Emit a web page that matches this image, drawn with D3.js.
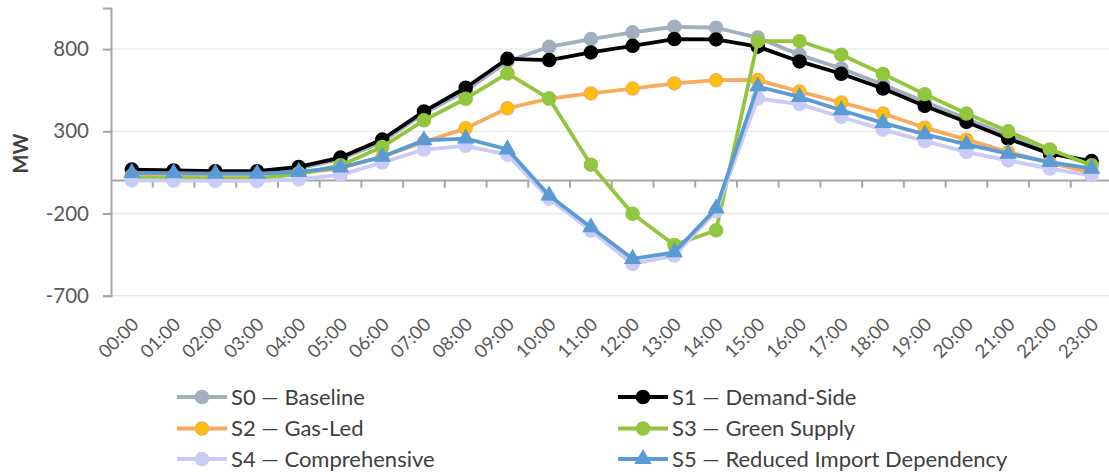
<!DOCTYPE html>
<html>
<head>
<meta charset="utf-8">
<script src="https://cdn.jsdelivr.net/npm/d3@7/dist/d3.min.js"></script>
<style>
  html, body { margin: 0; padding: 0; background: #fff; }
  svg { display: block; }
  text { font-family: Lato, "Open Sans", sans-serif; }
</style>
</head>
<body>
<svg id="chart" width="1109" height="472"></svg>
<script>
// Hourly net import profile per scenario (MW)
const hours = ["00:00","01:00","02:00","03:00","04:00","05:00","06:00","07:00","08:00","09:00","10:00","11:00",
               "12:00","13:00","14:00","15:00","16:00","17:00","18:00","19:00","20:00","21:00","22:00","23:00"];
const s0Baseline      = [60, 55, 50, 50, 75, 130, 235, 410, 545, 725, 814, 861, 902, 936, 930, 870, 765, 682, 585, 480, 377, 276, 174, 100];
const s1DemandSide    = [67, 62, 57, 57, 83, 140, 250, 421, 565, 741, 733, 780, 820, 861, 859, 815, 725, 650, 560, 454, 357, 255, 164, 119];
const s2GasLed        = [30, 28, 25, 25, 45, 75, 145, 235, 318, 440, 499, 530, 560, 591, 611, 612, 542, 475, 408, 322, 249, 174, 107, 52];
const s3GreenSupply   = [18, 15, 12, 12, 40, 94, 205, 367, 498, 652, 499, 97, -202, -391, -302, 848, 848, 766, 649, 526, 408, 300, 190, 93];
const s4Comprehensive = [2, 0, -2, -2, 7, 35, 110, 189, 211, 158, -110, -304, -507, -456, -185, 500, 465, 387, 310, 241, 174, 123, 73, 32];
const s5ReducedImport = [47, 45, 42, 42, 53, 80, 145, 245, 256, 190, -90, -284, -476, -436, -170, 572, 509, 428, 351, 282, 221, 164, 113, 73];
const yTicks = [800, 300, -200, -700];

const series = [
  { name: "S0 \u2014 Baseline",                  values: s0Baseline,      line: "#A2AFC1", fill: "#A2AFC1", stroke: "#A2AFC1", shape: "circle" },
  { name: "S1 \u2014 Demand-Side",               values: s1DemandSide,    line: "#000000", fill: "#000000", stroke: "#000000", shape: "circle" },
  { name: "S2 \u2014 Gas-Led",                   values: s2GasLed,        line: "#F7AB5C", fill: "#FFC000", stroke: "#F7AB5C", shape: "circle" },
  { name: "S3 \u2014 Green Supply",              values: s3GreenSupply,   line: "#92C63E", fill: "#92C63E", stroke: "#92C63E", shape: "circle" },
  { name: "S4 \u2014 Comprehensive",             values: s4Comprehensive, line: "#CACBF8", fill: "#CACBF8", stroke: "#CACBF8", shape: "circle" },
  { name: "S5 \u2014 Reduced Import Dependency", values: s5ReducedImport, line: "#5B9BD5", fill: "#5B9BD5", stroke: "#5B9BD5", shape: "triangle" }
];

const svg = d3.select("#chart");
const plot = { left: 111, right: 1112.5, top: 8, bottom: 295.7 };

const x = d3.scaleBand().domain(hours).range([plot.left, plot.right]).padding(0);
const y = d3.scaleLinear().domain([-700, 1050]).range([plot.bottom, plot.top]);
const cx = h => x(h) + x.bandwidth() / 2;

// Gridlines
svg.append("g").selectAll("line").data(yTicks).join("line")
  .attr("x1", plot.left).attr("x2", plot.right)
  .attr("y1", d => y(d)).attr("y2", d => y(d))
  .attr("stroke", "#E3EAEA").attr("stroke-width", 1.3);

// Value axis
const yAxis = svg.append("g").attr("transform", `translate(${plot.left},0)`)
  .call(d3.axisLeft(y).tickValues(yTicks).tickSize(8).tickPadding(14).tickFormat(d => String(d)));
yAxis.select(".domain").attr("stroke", "#A6A6A6").attr("stroke-width", 2);
yAxis.selectAll(".tick line").attr("stroke", "#A6A6A6").attr("stroke-width", 2);
yAxis.selectAll(".tick text").attr("fill", "#595959").attr("font-size", 20.5)
  .style("font-family", "Lato, 'Open Sans', sans-serif");

svg.append("text").attr("transform", `translate(28,${y(165)}) rotate(-90)`)
  .attr("text-anchor", "middle").attr("font-size", 20).attr("font-weight", "bold")
  .attr("fill", "#404040").text("MW");

// Category axis drawn at zero
const x0 = y(0);
svg.append("line").attr("x1", plot.left).attr("x2", plot.right).attr("y1", x0).attr("y2", x0)
  .attr("stroke", "#A6A6A6").attr("stroke-width", 2);
svg.append("g").selectAll("line").data(hours.slice(1)).join("line")
  .attr("x1", d => x(d)).attr("x2", d => x(d)).attr("y1", x0).attr("y2", x0 + 7)
  .attr("stroke", "#A6A6A6").attr("stroke-width", 2);

// Hour labels below the plot, rotated
svg.append("g").selectAll("text").data(hours).join("text")
  .attr("transform", d => `translate(${cx(d) + 8},${plot.bottom + 30}) rotate(-45)`)
  .attr("text-anchor", "end")
  .attr("font-size", 18.5).attr("fill", "#595959").text(d => d);

// Series lines and markers
const line = d3.line().x((d, i) => cx(hours[i])).y(d => y(d));
const tri = d3.symbol().type(d3.symbolTriangle).size(95);

series.forEach(s => {
  const g = svg.append("g");
  g.append("path").attr("d", line(s.values)).attr("fill", "none")
    .attr("stroke", s.line).attr("stroke-width", 3.8).attr("stroke-linejoin", "round");
  if (s.shape === "circle") {
    g.selectAll("circle").data(s.values).join("circle")
      .attr("cx", (d, i) => cx(hours[i])).attr("cy", d => y(d)).attr("r", 6.5)
      .attr("fill", s.fill).attr("stroke", s.stroke).attr("stroke-width", 1.5);
  } else {
    g.selectAll("path.m").data(s.values).join("path").attr("class", "m")
      .attr("transform", (d, i) => `translate(${cx(hours[i])},${y(d)})`)
      .attr("d", tri).attr("fill", s.fill).attr("stroke", s.stroke).attr("stroke-width", 1.5);
  }
});

// Legend in two columns
const legend = svg.append("g");
const colX = [177, 618];
const rowY = [397, 428.5, 459];
series.forEach((s, i) => {
  const gx = colX[i % 2], gy = rowY[Math.floor(i / 2)];
  const g = legend.append("g").attr("transform", `translate(${gx},${gy})`);
  g.append("line").attr("x1", 0).attr("x2", 50).attr("stroke", s.line).attr("stroke-width", 3.8);
  if (s.shape === "circle") {
    g.append("circle").attr("cx", 25).attr("r", 6.5).attr("fill", s.fill)
      .attr("stroke", s.stroke).attr("stroke-width", 1.5);
  } else {
    g.append("path").attr("transform", "translate(25,0)").attr("d", tri).attr("fill", s.fill)
      .attr("stroke", s.stroke).attr("stroke-width", 1.5);
  }
  g.append("text").attr("x", 54).attr("dy", "0.35em").attr("font-size", 22)
    .attr("fill", "#404040").text(s.name);
});
</script>
</body>
</html>
